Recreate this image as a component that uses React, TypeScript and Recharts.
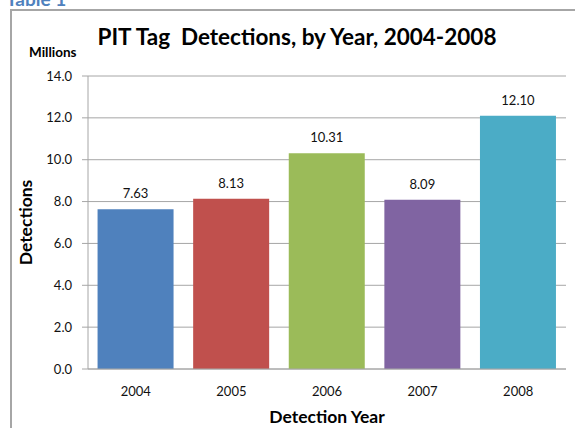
import { Bar, BarChart, CartesianGrid, Cell, LabelList, XAxis, YAxis } from "recharts";

const years = ["2004", "2005", "2006", "2007", "2008"];
const detections = [7.63, 8.13, 10.31, 8.09, 12.1];
const barColors = ["#4f81bd", "#c0504d", "#9bbb59", "#8064a2", "#4bacc6"];
const yTicks = [0, 2, 4, 6, 8, 10, 12, 14];

const data = years.map((year, i) => ({ year, value: detections[i] }));

const FONT = "Lato, 'Open Sans', sans-serif";
const GRID = "#a6a6a6";

export default function App() {
  return (
    <div
      style={{
        position: "fixed",
        left: 0,
        top: 0,
        width: 575,
        height: 428,
        overflow: "hidden",
        background: "#fff",
        fontFamily: FONT,
      }}
    >
      {/* caption sits mostly above the page edge, like in the scan */}
      <div
        style={{
          position: "absolute",
          left: 6,
          top: -13,
          fontSize: 19,
          fontWeight: 700,
          color: "#4f81bd",
        }}
      >
        Table 1
      </div>
      <div
        style={{
          position: "absolute",
          left: 10,
          top: 9,
          width: 700,
          height: 600,
          borderLeft: "2px solid #a6a6a6",
          borderTop: "2px solid #a6a6a6",
        }}
      />
      <div
        style={{
          position: "absolute",
          left: 0,
          width: 594,
          top: 23,
          textAlign: "center",
          fontSize: 22.5,
          fontWeight: 700,
          color: "#000",
          whiteSpace: "pre",
        }}
      >
        {"PIT Tag  Detections, by Year, 2004-2008"}
      </div>
      <div
        style={{
          position: "absolute",
          left: 29,
          top: 44,
          fontSize: 13.5,
          fontWeight: 700,
          color: "#000",
        }}
      >
        Millions
      </div>
      <div style={{ position: "absolute", left: 0, top: 0 }}>
        <BarChart
          width={575}
          height={428}
          data={data}
          margin={{ top: 76, right: 9, bottom: 29, left: 28 }}
          barCategoryGap="10%"
        >
          <CartesianGrid vertical={false} stroke={GRID} strokeWidth={1} />
          <XAxis
            dataKey="year"
            height={30}
            tickLine={false}
            tickSize={0}
            tickMargin={18}
            axisLine={{ stroke: GRID }}
            tick={{ fill: "#111", fontSize: 13, fontFamily: FONT }}
            label={{
              value: "Detection Year",
              position: "insideBottom",
              offset: -24,
              fill: "#000",
              fontSize: 17.5,
              fontWeight: 700,
              fontFamily: FONT,
            }}
          />
          <YAxis
            width={60}
            domain={[0, 14]}
            ticks={yTicks}
            tickFormatter={(v: number) => v.toFixed(1)}
            tickSize={6}
            tickMargin={10}
            axisLine={{ stroke: GRID }}
            tickLine={{ stroke: GRID }}
            tick={{ fill: "#111", fontSize: 13, fontFamily: FONT }}
            label={{
              value: "Detections",
              angle: -90,
              position: "insideLeft",
              offset: -2,
              fill: "#000",
              fontSize: 17.5,
              fontWeight: 700,
              fontFamily: FONT,
              style: { textAnchor: "middle" },
            }}
          />
          <Bar dataKey="value" isAnimationActive={false}>
            {data.map((d, i) => (
              <Cell key={d.year} fill={barColors[i]} />
            ))}
            <LabelList
              dataKey="value"
              position="top"
              offset={11}
              formatter={(v: number) => v.toFixed(2)}
              fill="#111"
              fontSize={13}
              fontFamily={FONT}
            />
          </Bar>
        </BarChart>
      </div>
    </div>
  );
}
